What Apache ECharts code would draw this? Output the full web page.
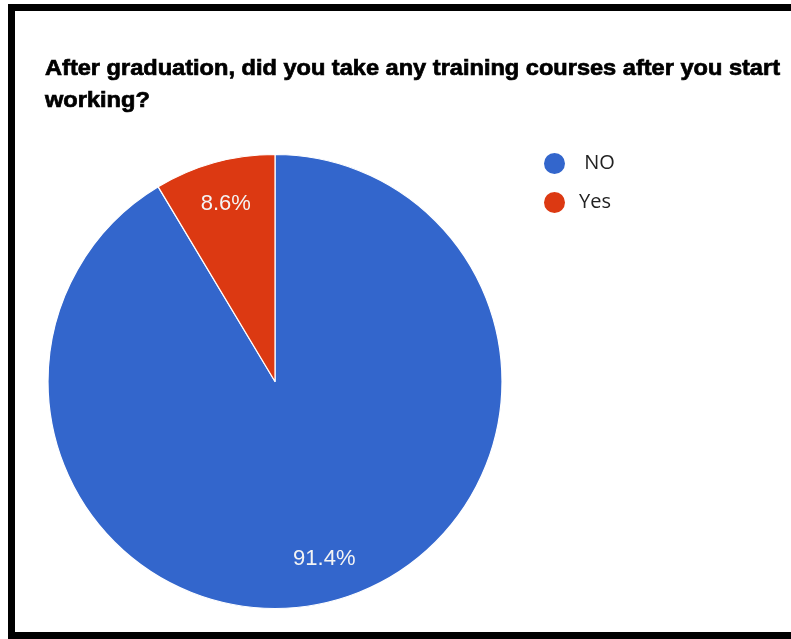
<!DOCTYPE html>
<html>
<head>
<meta charset="utf-8">
<script src="https://cdn.jsdelivr.net/npm/echarts@6/dist/echarts.min.js"></script>
<style>
  html, body { margin: 0; padding: 0; background: #fff; }
  #chart { width: 791px; height: 639px; }
</style>
</head>
<body>
<div id="chart"></div>
<script>
// Survey answers and their shares (%)
const categories = ['NO', 'Yes'];
const shares = [91.4, 8.6];
const colors = ['#3366cc', '#dc3912'];
const titleLines = [
  'After graduation, did you take any training courses after you start',
  'working?'
];

const titleFont = 'bold 22px "Liberation Sans", Arial, sans-serif';
// Condensed look: squeeze the first line to its target width
const ctx = document.createElement('canvas').getContext('2d');
ctx.font = titleFont;
const titleScale = 735 / ctx.measureText(titleLines[0]).width;

const pieData = categories.map((name, i) => ({
  name,
  value: shares[i],
  itemStyle: { color: colors[i] }
}));

const chart = echarts.init(document.getElementById('chart'), null, { renderer: 'canvas' });

const CX = 275, CY = 381.5, R = 227;

chart.setOption({
  backgroundColor: '#ffffff',
  animation: false,
  legend: {
    orient: 'vertical',
    left: 537,
    top: 146,
    icon: 'circle',
    itemWidth: 23,
    itemHeight: 23,
    itemGap: 14,
    data: categories,
    formatter: name => (name === 'NO' ? ' ' + name : name),
    textStyle: {
      fontFamily: '"Open Sans", "Noto Sans", sans-serif',
      fontSize: 20,
      color: '#222222',
      padding: [0, 0, 0, 8]
    }
  },
  series: [
    {
      type: 'pie',
      center: [CX, CY],
      radius: [0, R],
      startAngle: 90,
      clockwise: true,
      silent: true,
      label: { show: false },
      labelLine: { show: false },
      itemStyle: { borderColor: '#ffffff', borderWidth: 1.2 },
      data: pieData
    },
    {
      // transparent ring that carries the percentage labels at 0.8 R
      type: 'pie',
      center: [CX, CY],
      radius: [R * 0.6, R],
      startAngle: 90,
      clockwise: true,
      silent: true,
      legendHoverLink: false,
      itemStyle: { color: 'rgba(0,0,0,0)', borderWidth: 0 },
      label: {
        show: true,
        position: 'inside',
        formatter: p => p.value.toFixed(1) + '%',
        color: '#f4f4f4',
        fontFamily: '"Liberation Sans", Arial, sans-serif',
        fontSize: 22
      },
      labelLine: { show: false },
      data: categories.map((name, i) => ({ name, value: shares[i] }))
    }
  ],
  graphic: [
    // frame
    { type: 'rect', shape: { x: 8, y: 4, width: 7, height: 635 }, style: { fill: '#000' } },
    { type: 'rect', shape: { x: 8, y: 4, width: 783, height: 7 }, style: { fill: '#000' } },
    { type: 'rect', shape: { x: 8, y: 632, width: 783, height: 7 }, style: { fill: '#000' } },
    {
      type: 'text',
      x: 45, y: 68.5,
      scaleX: titleScale,
      style: {
        text: titleLines[0],
        font: titleFont,
        fill: '#000',
        stroke: '#000',
        lineWidth: 0.7,
        verticalAlign: 'middle'
      }
    },
    {
      type: 'text',
      x: 45, y: 101,
      scaleX: titleScale,
      style: {
        text: titleLines[1],
        font: titleFont,
        fill: '#000',
        stroke: '#000',
        lineWidth: 0.7,
        verticalAlign: 'middle'
      }
    }
  ]
});
</script>
</body>
</html>
